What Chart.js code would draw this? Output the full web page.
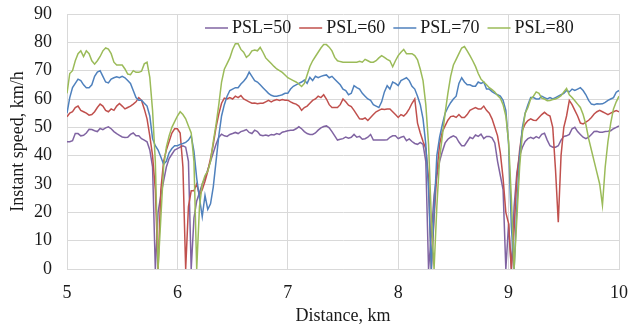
<!DOCTYPE html>
<html>
<head>
<meta charset="utf-8">
<title>Instant speed vs distance</title>
<script src="https://cdn.jsdelivr.net/npm/chart.js@4.4.1/dist/chart.umd.min.js"></script>
<style>
  html, body { margin: 0; padding: 0; background: #fff; }
  #speedChart { display: block; }
</style>
</head>
<body>
<canvas id="speedChart" width="628" height="326"></canvas>
<script>
// Distance grid, km
const distance = [
  5, 5.025, 5.05, 5.075, 5.1, 5.125, 5.15, 5.175, 5.2, 5.225,
  5.25, 5.275, 5.3, 5.325, 5.35, 5.375, 5.4, 5.425, 5.45, 5.475,
  5.5, 5.525, 5.55, 5.575, 5.6, 5.625, 5.65, 5.675, 5.7, 5.725,
  5.75, 5.775, 5.8, 5.825, 5.85, 5.875, 5.9, 5.925, 5.95, 5.975,
  6, 6.025, 6.05, 6.075, 6.1, 6.125, 6.15, 6.175, 6.2, 6.225,
  6.25, 6.275, 6.3, 6.325, 6.35, 6.375, 6.4, 6.425, 6.45, 6.475,
  6.5, 6.525, 6.55, 6.575, 6.6, 6.625, 6.65, 6.675, 6.7, 6.725,
  6.75, 6.775, 6.8, 6.825, 6.85, 6.875, 6.9, 6.925, 6.95, 6.975,
  7, 7.025, 7.05, 7.075, 7.1, 7.125, 7.15, 7.175, 7.2, 7.225,
  7.25, 7.275, 7.3, 7.325, 7.35, 7.375, 7.4, 7.425, 7.45, 7.475,
  7.5, 7.525, 7.55, 7.575, 7.6, 7.625, 7.65, 7.675, 7.7, 7.725,
  7.75, 7.775, 7.8, 7.825, 7.85, 7.875, 7.9, 7.925, 7.95, 7.975,
  8, 8.025, 8.05, 8.075, 8.1, 8.125, 8.15, 8.175, 8.2, 8.225,
  8.25, 8.275, 8.3, 8.325, 8.35, 8.375, 8.4, 8.425, 8.45, 8.475,
  8.5, 8.525, 8.55, 8.575, 8.6, 8.625, 8.65, 8.675, 8.7, 8.725,
  8.75, 8.775, 8.8, 8.825, 8.85, 8.875, 8.9, 8.925, 8.95, 8.975,
  9, 9.025, 9.05, 9.075, 9.1, 9.125, 9.15, 9.175, 9.2, 9.225,
  9.25, 9.275, 9.3, 9.325, 9.35, 9.375, 9.4, 9.425, 9.45, 9.475,
  9.5, 9.525, 9.55, 9.575, 9.6, 9.625, 9.65, 9.675, 9.7, 9.725,
  9.75, 9.775, 9.8, 9.825, 9.85, 9.875, 9.9, 9.925, 9.95, 9.975,
  10
];

// Instant speed, km/h, per posted speed limit
const speed50 = [
  44.9, 44.9, 45.3, 47.8, 47.8, 47.0, 47.2, 48.0, 49.3, 49.2,
  48.8, 48.5, 49.6, 49.2, 49.8, 50.2, 49.5, 48.5, 47.8, 47.2,
  46.6, 46.4, 46.5, 47.5, 48.0, 47.0, 47.0, 46.0, 45.5, 44.9,
  42.0, 36.0, 0, 20, 26, 31, 36, 39, 40.5, 42,
  42.5, 43, 43.5, 43, 38, 0, 18, 24, 27, 30,
  32, 35, 38, 41, 44, 46.5, 47.6, 47, 46.8, 47.5,
  47.8, 48.2, 47.8, 48.5, 48.8, 49.2, 48.2, 47.8, 49, 48.5,
  47.3, 47, 47.3, 47, 47.5, 47.3, 47.8, 47.5, 48.3, 48.5,
  48.8, 49, 49, 49.5, 50.2, 49.5, 48.5, 47.8, 47.5, 47.5,
  48, 49, 49.8, 50.3, 50.5, 49.8, 48.5, 47, 45.5, 45.8,
  46, 46.6, 46.2, 46.5, 47.5, 46.5, 46.8, 45.8, 46, 46.5,
  47.5, 45.5, 45.5, 45.5, 45.5, 45.5, 45.6, 46.5, 47, 47,
  46, 46.5, 46.8, 45.3, 45.9, 45, 44.3, 44, 44.7, 44,
  38, 0, 12, 26, 33, 38, 41.5, 44.5, 45.8, 46.5,
  47, 46.5, 44.8, 43.5, 43.5, 45, 46.5, 46, 47.3, 46.8,
  47.6, 46, 46.8, 46.8, 46.3, 44.5, 38, 33, 28, 0,
  16, 0, 22, 34, 40, 43, 45, 46, 46.5, 46,
  46.7, 46.2, 47.5, 47.9, 45.5, 43.5, 43, 43, 43.5, 45.5,
  46.8, 47, 47.5, 49.5, 50, 48.5, 47.5, 46.5, 46, 46.5,
  47.5, 48.5, 48.6, 48.3, 48.3, 48.5, 48.6, 48.8, 49.5, 50,
  50.5
];

const speed60 = [
  53.7, 55, 55.5, 57, 57.5, 56, 55.5, 55, 54.3, 54.5,
  55.5, 57, 58.2, 57.5, 56, 55.5, 56.5, 56, 57.5, 58.4,
  57.5, 56.5, 57, 57.5, 58.2, 59, 60.5, 59.5, 56.5, 53,
  47, 40, 28, 0, 28, 38, 42, 45, 48, 49.5,
  49.5, 48, 36, 0, 22, 27.6, 27.6, 30, 26, 28,
  31, 34.5, 39, 44, 50, 54.7, 58.5, 60.3, 60, 60.5,
  60, 61, 60.5, 61.2, 60, 59.5, 59, 58.5, 58.6, 58.3,
  58.5, 58.5, 59, 59.5, 59, 59.5, 59.8, 59.5, 59.8, 59.6,
  59.6, 59, 58.5, 58.2, 57.5, 56, 57, 57.5, 58.5, 59.5,
  60, 61, 60.5, 61.5, 60, 58, 57, 57, 57, 58,
  60, 59, 57.8, 57.3, 56, 54.5, 53, 52.9, 53.3, 52.4,
  53.5, 54.5, 55.5, 56, 56.5, 56.3, 56.5, 56.5, 55.5, 54.5,
  53.5, 54.5, 54, 55, 56.5, 58.5, 60, 51.5, 48, 45,
  42.5, 32, 0, 18, 34, 44, 48.5, 50.5, 52.5, 53.8,
  54, 53.5, 54.5, 53.5, 53.5, 54.5, 56, 56.5, 57, 56.5,
  56.5, 57.5, 56, 55, 53, 50, 47, 41, 32, 20,
  16, 0, 14, 32, 42, 49, 51.2, 52.4, 53, 52.5,
  52.4, 53.5, 54.5, 55.3, 54.5, 54, 50, 35, 16.5, 40,
  50, 54, 59.5, 58, 56, 54, 51.5, 51.2, 51.8, 52.5,
  53.5, 54.7, 55.5, 56, 55.5, 55, 54.5, 55, 55.5, 55.9,
  55.5
];

const speed70 = [
  55, 60.5, 64, 65.5, 67, 66.5, 65, 64, 64, 65,
  68, 69.5, 70, 68, 66, 65.7, 67, 67.5, 67.8, 67.5,
  68, 67.5, 66.5, 65.5, 63, 60.5, 59.6, 59.6, 58.5, 57.5,
  54, 46, 43.5, 42, 39.5, 37, 38, 41, 42.5, 43.5,
  43.5, 44, 44.3, 44.7, 45.5, 47, 41.5, 32, 25, 18.5,
  26, 21, 23, 29, 38, 47, 54, 58, 61, 63,
  63.5, 64, 64, 65.3, 66.3, 67.5, 69.5, 68, 66.5, 66,
  65, 64, 63, 62, 61.3, 61, 61, 61.2, 61.5, 62,
  62, 63.5, 64.5, 65, 65.5, 66, 66.7, 65.5, 67.6, 66.5,
  68, 67.5, 68, 68.3, 68.5, 67.5, 68, 67, 66, 65,
  63.5, 63, 61.5, 62, 64.7, 64, 63.5, 62, 61, 60,
  59.5, 58, 57.5, 57, 59, 62.5, 64.7, 63.5, 66, 65.5,
  64.7, 66.5, 67, 67.5, 66.5, 64.5, 63.5, 61, 58, 53,
  44, 28, 0, 20, 40, 46.5, 51, 55, 57, 58.7,
  60, 61, 65.5, 67.5, 66, 65, 65, 64.5, 64.5, 66,
  65.5, 66, 63.5, 63.5, 62.6, 62, 61.5, 61, 59.5, 56,
  44, 15, 0, 22, 40, 50, 55, 58, 60.5, 60.5,
  60, 60, 61, 60.5, 60, 60.5, 60, 60.5, 61, 61.5,
  62, 63, 62.5, 63.5, 63, 63.5, 64, 63, 61.5, 59.5,
  58.2, 58, 58.3, 58.2, 58.3, 58.8, 59.5, 60, 60.5, 62.4,
  63
];

const speed80 = [
  62, 69, 70, 73.5, 76, 77, 75, 77, 76, 73.5,
  72.3, 73.5, 75, 77, 78, 77.6, 76, 73, 72, 72,
  72, 70.6, 68.8, 68.6, 70, 69.4, 69.4, 69.8, 72.4, 73,
  67.6, 56, 38, 0, 18, 36, 43, 47, 50, 52,
  54, 55.5, 54.5, 53, 50.5, 48, 38, 0, 22, 30,
  33, 34.5, 38, 45, 51, 58, 66, 70.5, 72.5, 74.5,
  77.5, 79.5, 79.5, 77.5, 76.5, 74.7, 75.5, 77, 77.3, 77,
  78.2, 76.5, 74.5, 73.5, 72.5, 71.5, 70.6, 70, 69.4, 68.5,
  67.5, 67, 66.5, 66, 65.3, 64.4, 65.5, 68.5, 71.5, 73.5,
  75, 76.5, 78, 79.2, 79.2, 78.3, 77, 74.7, 73.5, 73.2,
  73, 73, 73, 73, 73, 73, 73.3, 73, 74, 73.5,
  73, 73, 73.5, 74.5, 75.3, 74.7, 74, 73.5, 71.4, 73.5,
  75.3, 76.5, 77.5, 76, 76, 76, 75.3, 73.8, 70.5, 66.5,
  58, 44, 18, 0, 22, 39, 47, 55, 62, 68,
  72, 74, 76, 78, 78.5, 77, 75.3, 73.5, 71.5, 69,
  67, 66, 65, 64, 63.3, 62.5, 61.2, 60.3, 58, 54,
  45, 25, 0, 18, 36, 48, 55, 57, 60, 61,
  62.5, 62, 60.3, 60, 59.4, 59.5, 59.8, 60, 60.5, 61.2,
  62.5, 63.7, 61.5, 60.5, 59.4, 58.2, 57, 54.5, 51, 46,
  42, 38, 34, 30, 22.5, 36, 45, 51.5, 56.5, 59,
  61
];

const seriesNames = ["PSL=50", "PSL=60", "PSL=70", "PSL=80"];
const seriesColors = ["#8064A2", "#C0504D", "#4F81BD", "#9BBB59"];

const FONT = "'Liberation Serif', 'Times New Roman', serif";
const TEXT_COLOR = "#1a1a1a";
const GRID_COLOR = "#d9d9d9";

Chart.defaults.font.family = FONT;
Chart.defaults.font.size = 18;
Chart.defaults.color = TEXT_COLOR;

function toPoints(values) {
  return distance.map((d, i) => ({ x: d, y: values[i] }));
}

// Legend drawn inside the plot, like the original
const inlineLegend = {
  id: "inlineLegend",
  afterDraw(chart) {
    const ctx = chart.ctx;
    const y = chart.chartArea.top + 14;
    let x = 205;
    ctx.save();
    ctx.font = "18px " + FONT;
    ctx.textBaseline = "middle";
    ctx.textAlign = "left";
    chart.data.datasets.forEach(ds => {
      ctx.strokeStyle = ds.borderColor;
      ctx.lineWidth = 1.5;
      ctx.beginPath();
      ctx.moveTo(x, y);
      ctx.lineTo(x + 23, y);
      ctx.stroke();
      ctx.fillStyle = TEXT_COLOR;
      ctx.fillText(ds.label, x + 27, y);
      x += 27 + ctx.measureText(ds.label).width + 8;
    });
    ctx.restore();
  }
};

// keep the plot box fixed: no extra room for overhanging tick labels
function noScalePadding(scale) {
  scale.paddingTop = 0;
  scale.paddingBottom = 0;
  scale.paddingLeft = 0;
  scale.paddingRight = 0;
}

const allSpeeds = [speed50, speed60, speed70, speed80];

new Chart(document.getElementById("speedChart"), {
  type: "line",
  data: {
    datasets: allSpeeds.map((values, i) => ({
      label: seriesNames[i],
      data: toPoints(values),
      borderColor: seriesColors[i],
      backgroundColor: seriesColors[i],
      borderWidth: 1.5,
      pointRadius: 0,
      tension: 0,
      fill: false,
      order: allSpeeds.length - i
    }))
  },
  options: {
    responsive: false,
    animation: false,
    events: [],
    layout: { padding: { top: 14, right: 9, bottom: 0, left: 0 } },
    plugins: {
      legend: { display: false },
      tooltip: { enabled: false }
    },
    scales: {
      x: {
        type: "linear",
        min: 5,
        max: 10,
        ticks: { stepSize: 1, padding: 15, font: { size: 18, lineHeight: 1 } },
        grid: { color: GRID_COLOR, drawTicks: false },
        border: { color: GRID_COLOR },
        title: {
          display: true,
          text: "Distance, km",
          font: { size: 18, lineHeight: 1 },
          padding: { top: 0, bottom: 1 }
        },
        afterFit(scale) {
          scale.height = 57;
          noScalePadding(scale);
        }
      },
      y: {
        min: 0,
        max: 90,
        ticks: { stepSize: 10, padding: 15, font: { size: 18 } },
        grid: { color: GRID_COLOR, drawTicks: false },
        border: { color: GRID_COLOR },
        title: {
          display: true,
          text: "Instant speed, km/h",
          font: { size: 18, lineHeight: 1 },
          padding: { top: 9, bottom: 0 }
        },
        afterFit(scale) {
          scale.width = 67;
          noScalePadding(scale);
        }
      }
    }
  },
  plugins: [inlineLegend]
});
</script>
</body>
</html>
